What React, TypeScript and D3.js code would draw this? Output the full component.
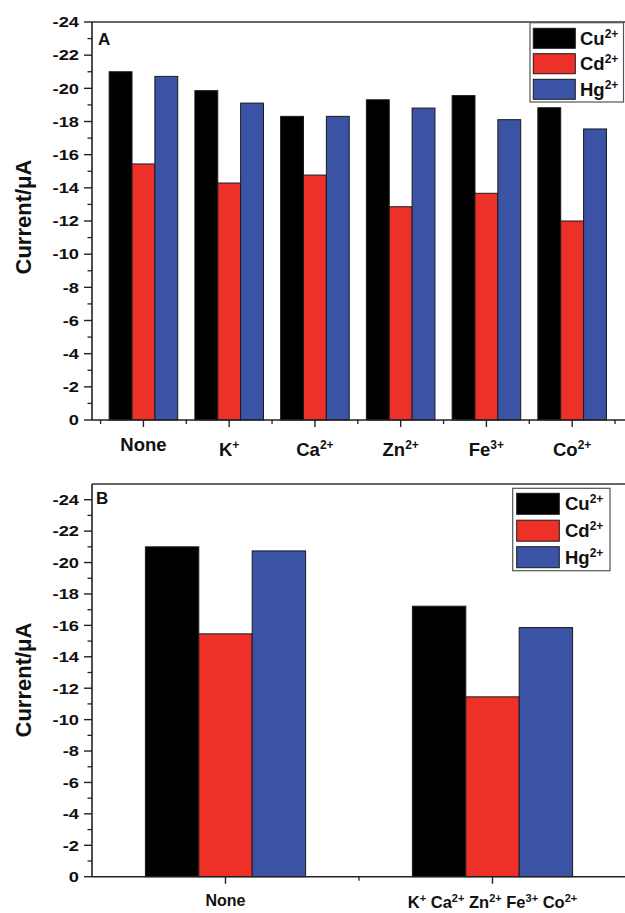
import React from 'react';
import * as d3 from 'd3';

// ---------- data ----------
const seriesNames = ['Cu', 'Cd', 'Hg'];
const seriesSup = ['2+', '2+', '2+'];
const seriesColors = ['#000000', '#ee3128', '#3a53a5'];

const categoriesA = ['None', 'K', 'Ca', 'Zn', 'Fe', 'Co'];
const categoriesASup = ['', '+', '2+', '2+', '3+', '2+'];
const cuA = [-21.0, -19.86, -18.31, -19.31, -19.56, -18.83];
const cdA = [-15.44, -14.29, -14.77, -12.86, -13.67, -12.0];
const hgA = [-20.72, -19.11, -18.31, -18.81, -18.11, -17.55];

const categoriesB = ['None', 'Mixed'];
const mixedIons = ['K', 'Ca', 'Zn', 'Fe', 'Co'];
const mixedIonsSup = ['+', '2+', '2+', '3+', '2+'];
const cuB = [-21.0, -17.22];
const cdB = [-15.46, -11.45];
const hgB = [-20.74, -15.86];

const yTickValues = [0, -2, -4, -6, -8, -10, -12, -14, -16, -18, -20, -22, -24];
const yMinorValues = [-1, -3, -5, -7, -9, -11, -13, -15, -17, -19, -21, -23];

const FONT = '"Liberation Sans", Arial, Helvetica, sans-serif';

type Part = { base: string; sup: string };

function SupText({ parts, x, y, size, supSize, anchor = 'middle', sep = '' }:
  { parts: Part[]; x: number; y: number; size: number; supSize: number; anchor?: string; sep?: string }) {
  const rise = Math.round(size * 0.38);
  const children: React.ReactNode[] = [];
  let shifted = false;
  parts.forEach((p, i) => {
    const txt = (i > 0 ? sep : '') + p.base;
    children.push(
      <tspan key={'b' + i} dy={shifted ? rise : 0} fontSize={size}>{txt}</tspan>
    );
    shifted = false;
    if (p.sup) {
      children.push(
        <tspan key={'s' + i} dy={-rise} fontSize={supSize}>{p.sup}</tspan>
      );
      shifted = true;
    }
  });
  return (
    <text x={x} y={y} textAnchor={anchor as any} fontFamily={FONT} fontWeight="bold" fill="#111">
      {children}
    </text>
  );
}

type PanelProps = {
  letter: string;
  letterX: number;
  letterY: number;
  xDomain: [number, number];
  xRange: [number, number];
  yDomain: [number, number];
  yRange: [number, number];
  groupWidth: number;
  series: number[][];
  xMajor: number[];
  xMinor: number[];
  labels: { parts: Part[]; y: number; size: number; supSize: number; sep?: string }[];
  legend: { x: number; y: number; w: number; h: number; swX: number; swW: number; swH: number; rows: number[]; textX: number };
  titleY: number;
};

function Panel(p: PanelProps) {
  const x = d3.scaleLinear().domain(p.xDomain).range(p.xRange);
  const y = d3.scaleLinear().domain(p.yDomain).range(p.yRange);
  const left = p.xRange[0];
  const top = p.yRange[1];
  const bottom = y(0);
  const right = 625;
  const barW = x(p.groupWidth / 3) - x(0);
  const nCat = p.series[0].length;

  return (
    <g>
      {/* bars */}
      {d3.range(nCat).map((i) =>
        p.series.map((vals, s) => {
          const x0 = x(i + 1 - p.groupWidth / 2 + (s * p.groupWidth) / 3);
          const yv = y(vals[i]);
          return (
            <rect key={`${i}-${s}`} x={x0} y={yv} width={barW} height={bottom - yv}
              fill={seriesColors[s]} stroke="#1a1a1a" strokeWidth={1} />
          );
        })
      )}
      {/* frame */}
      <line x1={left} x2={right} y1={top} y2={top} stroke="#333" strokeWidth={1.6} />
      <line x1={left} x2={left} y1={top} y2={bottom} stroke="#222" strokeWidth={1.6} />
      <line x1={left} x2={right} y1={bottom} y2={bottom} stroke="#222" strokeWidth={1.6} />
      {/* y ticks */}
      {yTickValues.map((v) => (
        <g key={'yt' + v}>
          <line x1={left - 8} x2={left} y1={y(v)} y2={y(v)} stroke="#222" strokeWidth={1.4} />
          <text transform={`translate(${left - 13},${y(v) + 5.3}) scale(1.22,1)`} textAnchor="end"
            fontFamily={FONT} fontWeight="bold" fontSize={15} fill="#111">{String(v)}</text>
        </g>
      ))}
      {yMinorValues.map((v) => (
        <line key={'ym' + v} x1={left - 4.5} x2={left} y1={y(v)} y2={y(v)} stroke="#222" strokeWidth={1.3} />
      ))}
      {/* x ticks */}
      {p.xMajor.map((v) => (
        <line key={'xt' + v} x1={x(v)} x2={x(v)} y1={bottom} y2={bottom + 7} stroke="#222" strokeWidth={1.4} />
      ))}
      {p.xMinor.map((v) => (
        <line key={'xm' + v} x1={x(v)} x2={x(v)} y1={bottom} y2={bottom + 4} stroke="#222" strokeWidth={1.3} />
      ))}
      {/* x labels */}
      {p.labels.map((l, i) => (
        <SupText key={'xl' + i} parts={l.parts} x={x(i + 1)} y={l.y} size={l.size} supSize={l.supSize} sep={l.sep} />
      ))}
      {/* panel letter */}
      <text x={p.letterX} y={p.letterY} fontFamily={FONT} fontWeight="bold" fontSize={17} fill="#111">{p.letter}</text>
      {/* y title */}
      <text transform={`translate(31,${p.titleY}) rotate(-90)`} textAnchor="middle" fontFamily={FONT}
        fontWeight="bold" fontSize={22} fill="#111">Current/μA</text>
      {/* legend */}
      <rect x={p.legend.x} y={p.legend.y} width={p.legend.w} height={p.legend.h} fill="#fff" stroke="#555" strokeWidth={1.2} />
      {seriesNames.map((n, s) => (
        <g key={'lg' + n}>
          <rect x={p.legend.swX} y={p.legend.rows[s] - p.legend.swH / 2} width={p.legend.swW} height={p.legend.swH}
            fill={seriesColors[s]} stroke="#1a1a1a" strokeWidth={1} />
          <SupText parts={[{ base: n, sup: seriesSup[s] }]} x={p.legend.textX} y={p.legend.rows[s] + 6.5}
            size={18.5} supSize={12} anchor="start" />
        </g>
      ))}
    </g>
  );
}

export default function App() {
  const labelsA = categoriesA.map((c, i) => ({
    parts: [{ base: c, sup: categoriesASup[i] }],
    y: categoriesASup[i] ? 456 : 451,
    size: 18.5,
    supSize: 12,
  }));
  const labelsB = [
    { parts: [{ base: categoriesB[0], sup: '' }], y: 906, size: 16, supSize: 10.5 },
    { parts: mixedIons.map((m, i) => ({ base: m, sup: mixedIonsSup[i] })), y: 908, size: 16.5, supSize: 11, sep: ' ' },
  ];
  return (
    <div style={{ position: 'absolute', left: 0, top: 0 }}>
      <svg width={625} height={913} viewBox="0 0 625 913" style={{ display: 'block', background: '#fff' }}>
        <Panel
          letter="A" letterX={98} letterY={44.5}
          xDomain={[0.4, 6.6]} xRange={[92, 623.6]}
          yDomain={[0, -24]} yRange={[420, 22]}
          groupWidth={0.8}
          series={[cuA, cdA, hgA]}
          xMajor={[1, 2, 3, 4, 5, 6]}
          xMinor={[0.5, 1.5, 2.5, 3.5, 4.5, 5.5, 6.5]}
          labels={labelsA}
          legend={{ x: 530, y: 22.7, w: 93.5, h: 79.3, swX: 533.3, swW: 42, swH: 20, rows: [38.3, 63.7, 89.3], textX: 580 }}
          titleY={217}
        />
        <Panel
          letter="B" letterX={96} letterY={504}
          xDomain={[0.5, 2.5]} xRange={[92, 626]}
          yDomain={[0, -25]} yRange={[876.7, 484]}
          groupWidth={0.6}
          series={[cuB, cdB, hgB]}
          xMajor={[1, 2]}
          xMinor={[1.5]}
          labels={labelsB}
          legend={{ x: 512.7, y: 488.3, w: 97.3, h: 82.4, swX: 516.7, swW: 42.6, swH: 21, rows: [503.8, 530.7, 557.2], textX: 565 }}
          titleY={680}
        />
      </svg>
    </div>
  );
}
